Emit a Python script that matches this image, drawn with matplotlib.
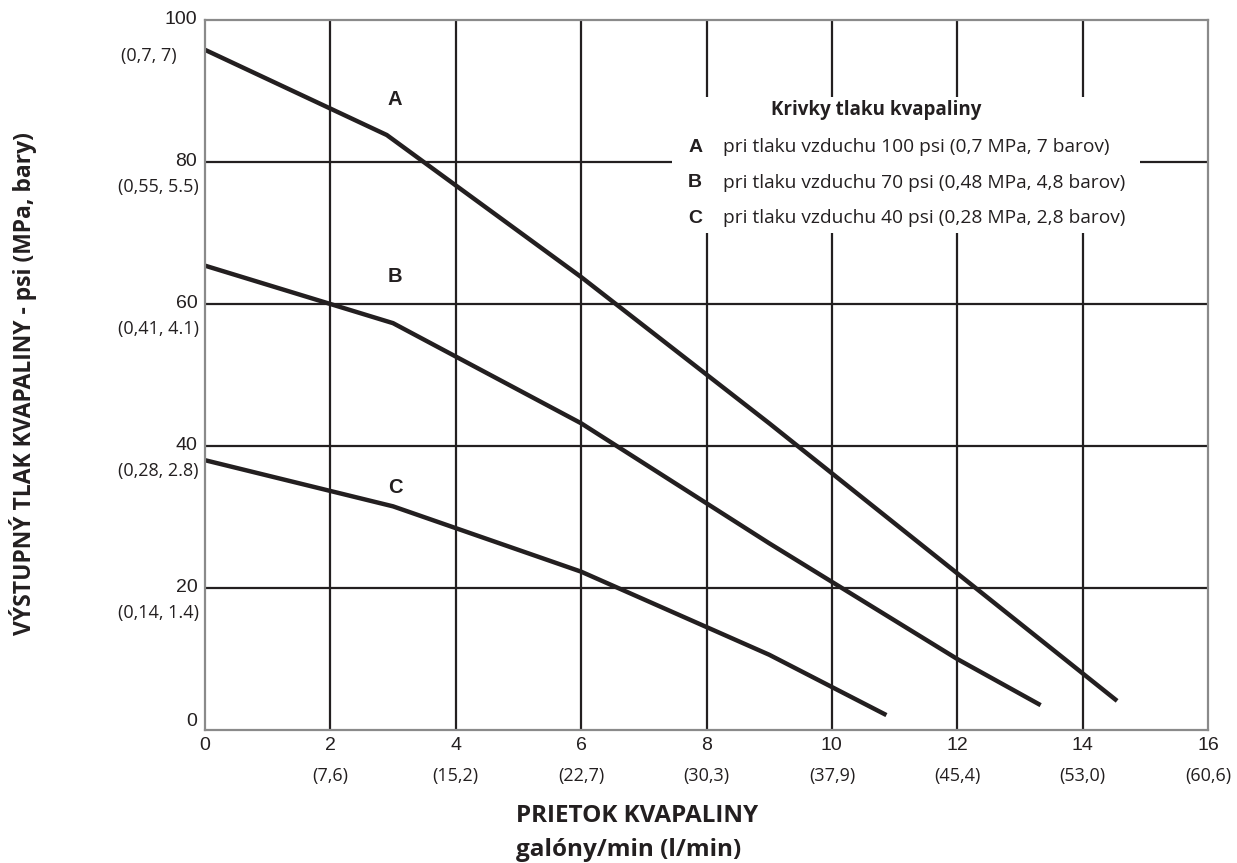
import matplotlib
matplotlib.use("Agg")
import matplotlib.pyplot as plt
from matplotlib.patches import Rectangle

# fluid pressure curves (gal/min vs psi)
flow_a = [0, 2.9, 6, 9, 14.55]
psi_a = [95.8, 83.8, 63.8, 43.2, 4.1]
flow_b = [0, 3, 6, 9, 12, 13.33]
psi_b = [65.4, 57.3, 43.2, 26.3, 10.0, 3.5]
flow_c = [0, 3, 6, 9, 10.87]
psi_c = [38.0, 31.5, 22.3, 10.6, 2.1]

x_ticks = [0, 2, 4, 6, 8, 10, 12, 14, 16]
x_sub = ["", "(7,6)", "(15,2)", "(22,7)", "(30,3)", "(37,9)", "(45,4)", "(53,0)", "(60,6)"]
y_ticks = [0, 20, 40, 60, 80, 100]
y_sub = ["", "(0,14, 1.4)", "(0,28, 2.8)", "(0,41, 4.1)", "(0,55, 5.5)", "(0,7, 7)"]

curve_names = ["A", "B", "C"]
curve_label_pos = [(3.03, 88.8), (3.03, 63.9), (3.03, 34.1)]
legend_title = "Krivky tlaku kvapaliny"
legend_rows = ["pri tlaku vzduchu 100 psi (0,7 MPa, 7 barov)",
               "pri tlaku vzduchu 70 psi (0,48 MPa, 4,8 barov)",
               "pri tlaku vzduchu 40 psi (0,28 MPa, 2,8 barov)"]

ink = "#231f20"
arial = "Liberation Sans"
myriad = "Open Sans"

fig = plt.figure(figsize=(12.37, 8.63), dpi=100)
ax = fig.add_axes([205 / 1237, 1 - 730 / 863, 1003 / 1237, 710 / 863])
ax.set_xlim(0, 16)
ax.set_ylim(0, 100)

# grid
for gx in x_ticks[1:-1]:
    ax.axvline(gx, color=ink, lw=1.6, zorder=1)
for gy in y_ticks[1:-1]:
    ax.axhline(gy, color=ink, lw=1.6, zorder=1)

# white box behind the legend text
ax.add_patch(Rectangle((7.45, 70.0), 7.46, 19.2, facecolor="white", edgecolor="none", zorder=2))

for xs, ys in [(flow_a, psi_a), (flow_b, psi_b), (flow_c, psi_c)]:
    ax.plot(xs, ys, color=ink, lw=3.2, solid_joinstyle="miter", solid_capstyle="butt", zorder=3)

for name, (lx, ly) in zip(curve_names, curve_label_pos):
    ax.text(lx, ly, name, family=arial, weight="bold", fontsize=14.5, color=ink,
            ha="center", va="center", zorder=4)

# legend
ax.text(10.7, 87.3, legend_title, family=myriad, weight="bold", fontsize=13.5, color=ink,
        ha="center", va="center", zorder=4)
row_y = [82.1, 77.1, 72.1]
for name, row, ry in zip(curve_names, legend_rows, row_y):
    ax.text(7.82, ry, name, family=arial, weight="bold", fontsize=14, color=ink,
            ha="center", va="center", zorder=4)
    ax.text(8.26, ry, row, family=myriad, fontsize=13.8, color=ink,
            ha="left", va="center", zorder=4)

for s in ax.spines.values():
    s.set_color("#8a8a8a")
    s.set_linewidth(1.6)
    s.set_zorder(5)

ax.set_xticks(x_ticks)
ax.set_yticks(y_ticks)
ax.tick_params(length=0, labelsize=14, labelcolor=ink)
ax.tick_params(axis="x", pad=5)
ax.tick_params(axis="y", pad=5.5)
ax.set_xticklabels([str(v) for v in x_ticks], family=arial)
ax.set_yticklabels([str(v) for v in y_ticks], family=arial)
for lab in ax.get_yticklabels():
    lab.set_va("center")
ax.get_yticklabels()[0].set_va("bottom")

for xv, sub in zip(x_ticks, x_sub):
    if sub:
        ax.annotate(sub, (xv, 0), xycoords=("data", "axes fraction"), xytext=(0, -46),
                    textcoords="offset pixels", ha="center", va="center",
                    family=myriad, fontsize=13, color=ink)
for yv, sub in zip(y_ticks, y_sub):
    if not sub:
        continue
    off = (-28, -36) if yv == 100 else (-6, -25)
    ax.annotate(sub, (0, yv), xycoords=("axes fraction", "data"), xytext=off,
                textcoords="offset pixels", ha="right", va="center",
                family=myriad, fontsize=13, color=ink)

fig.text(516 / 1237, 1 - 816 / 863, "PRIETOK KVAPALINY", family=myriad, weight="bold",
         fontsize=17.5, color=ink, ha="left", va="center")
fig.text(516 / 1237, 1 - 850 / 863, "galóny/min (l/min)", family=myriad, weight="bold",
         fontsize=17.5, color=ink, ha="left", va="center")
fig.text(23 / 1237, 1 - 384 / 863, "VÝSTUPNÝ TLAK KVAPALINY - psi (MPa, bary)", family=myriad,
         weight="bold", fontsize=16.5, color=ink, rotation=90, ha="center", va="center")

fig.savefig("out.png", dpi=100)
